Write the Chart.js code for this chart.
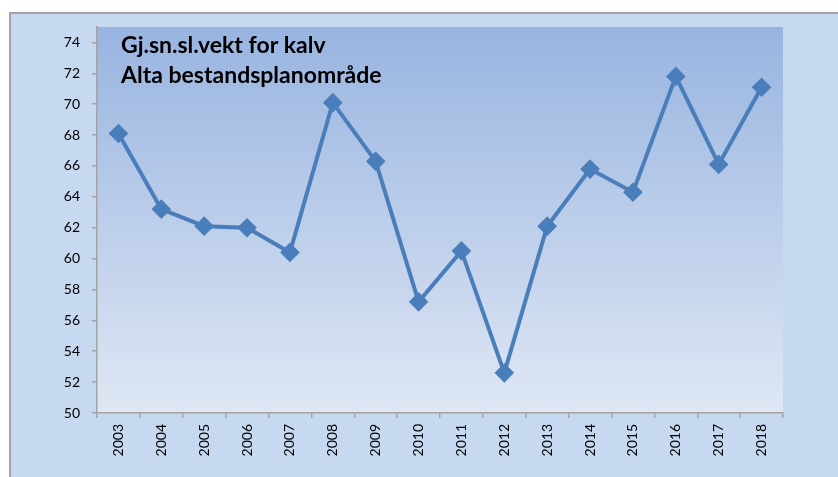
<!DOCTYPE html>
<html>
<head>
<meta charset="utf-8">
<script src="https://cdn.jsdelivr.net/npm/chart.js@4"></script>
<style>
  body { margin: 0; background: #fff; width: 838px; height: 477px; overflow: hidden; position: relative; }
  .frame { position: absolute; left: 9px; top: 12px; width: 850px; height: 500px; border: 2px solid #a3a3a3; background: #c6d9f1; }
  #wrap { position: absolute; left: 0; top: 0; width: 838px; height: 477px; }
</style>
</head>
<body>
<div class="frame"></div>
<div id="wrap"><canvas id="chart"></canvas></div>
<script>
const years = ['2003', '2004', '2005', '2006', '2007', '2008', '2009', '2010', '2011', '2012', '2013', '2014', '2015', '2016', '2017', '2018'];
const weights = [68.1, 63.2, 62.1, 62.0, 60.4, 70.1, 66.3, 57.2, 60.5, 52.6, 62.1, 65.8, 64.3, 71.8, 66.1, 71.1];
const yTicks = [50, 52, 54, 56, 58, 60, 62, 64, 66, 68, 70, 72, 74];
const titleLines = ['Gj.sn.sl.vekt for kalv', 'Alta bestandsplanområde'];

const lineColor = '#4a7ebb';
const axisColor = '#a3a3a3';

// gradient plot area + title inside it, like the Excel original
const plotBackground = {
    id: 'plotBackground',
    beforeDraw(chart) {
        const { ctx, chartArea: a } = chart;
        const g = ctx.createLinearGradient(0, a.top, 0, a.bottom);
        g.addColorStop(0, '#98b4e0');
        g.addColorStop(1, '#dfe7f4');
        ctx.save();
        ctx.fillStyle = g;
        ctx.fillRect(a.left, a.top, a.right - a.left, a.bottom - a.top);
        ctx.restore();
    },
    afterDraw(chart) {
        const { ctx, chartArea: a } = chart;
        ctx.save();
        ctx.fillStyle = '#000';
        ctx.font = 'bold 23px Lato';
        ctx.textBaseline = 'alphabetic';
        ctx.fillText(titleLines[0], a.left + 24, a.top + 26);
        ctx.fillText(titleLines[1], a.left + 24, a.top + 56);
        ctx.restore();
    }
};

new Chart(document.getElementById('chart'), {
    type: 'line',
    data: {
        labels: years,
        datasets: [{
            data: weights,
            borderColor: lineColor,
            backgroundColor: lineColor,
            borderWidth: 4,
            pointStyle: 'rectRot',
            pointRadius: 7,
            pointHoverRadius: 7,
            tension: 0
        }]
    },
    options: {
        responsive: true,
        maintainAspectRatio: false,
        animation: false,
        layout: { padding: { top: 27, right: 55, left: 0, bottom: 0 } },
        plugins: { legend: { display: false }, tooltip: { enabled: false } },
        scales: {
            x: {
                offset: true,
                grid: { display: true, drawOnChartArea: false, offset: true, tickLength: 5, color: axisColor, lineWidth: 1.5 },
                border: { color: axisColor, width: 1.5 },
                ticks: { color: '#000', font: { family: 'Lato', size: 14 }, minRotation: 90, maxRotation: 90, padding: 6, autoSkip: false },
                afterFit: (s) => { s.height = 64; }
            },
            y: {
                min: 50,
                max: 75,
                grid: { drawOnChartArea: false, tickLength: 5, color: axisColor, lineWidth: 1.5 },
                border: { color: axisColor, width: 1.5 },
                ticks: { color: '#000', font: { family: 'Lato', size: 14 }, padding: 12, autoSkip: false },
                afterBuildTicks: (s) => { s.ticks = yTicks.map(v => ({ value: v })); },
                afterFit: (s) => { s.width = 97; }
            }
        }
    },
    plugins: [plotBackground]
});
</script>
</body>
</html>
